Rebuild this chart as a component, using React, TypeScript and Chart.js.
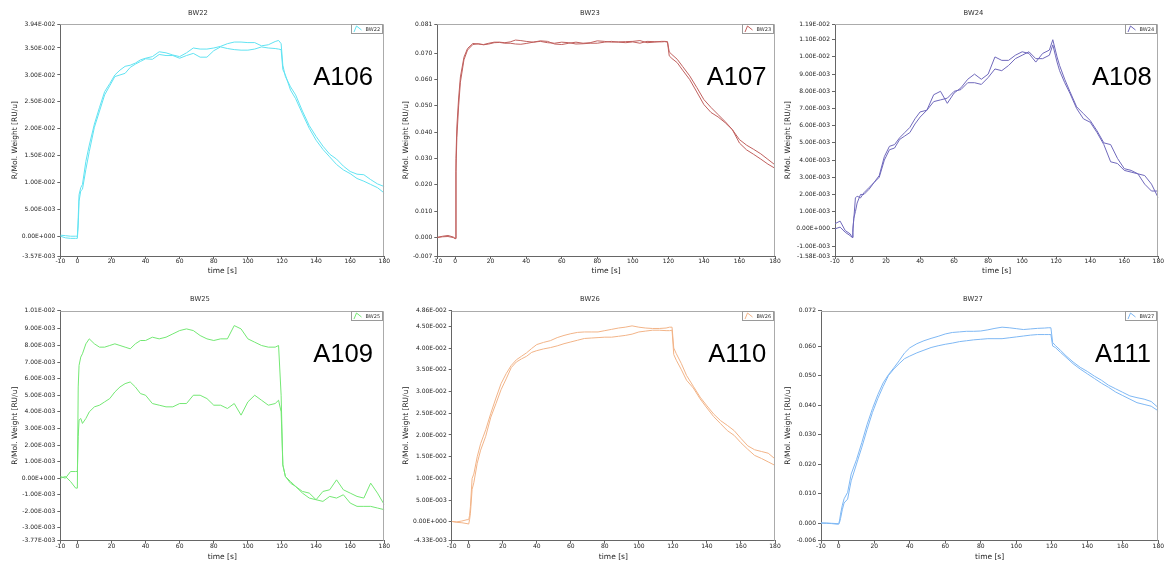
import React, { useEffect, useRef } from 'react';
import { Chart, registerables } from 'chart.js';

Chart.register(...registerables);

// ---------- data ----------
const TIME = [-10, -7, -4, -1, 0, 0.5, 1, 2, 3, 5, 7, 10, 13, 16, 19, 22, 25, 28, 31, 34, 37, 40, 44, 48, 52, 56, 60, 64, 68, 72, 76, 80, 84, 88, 92, 96, 100, 104, 108, 112, 116, 118, 119.5, 120.5, 122, 125, 128, 132, 136, 140, 144, 148, 152, 156, 160, 164, 168, 172, 176, 180];

const X_TICKS = [-10, 0, 20, 40, 60, 80, 100, 120, 140, 160, 180];

const BW22_A = [0.0003, 0.0002, 0.0001, 0.0001, 0.0001, 0.0035, 0.0078, 0.0091, 0.0097, 0.0140,
  0.0170, 0.0209, 0.0240, 0.0269, 0.0284, 0.0300, 0.0309, 0.0316, 0.0318, 0.0322,
  0.0328, 0.0331, 0.0334, 0.0343, 0.0341, 0.0337, 0.0334, 0.0341, 0.0350, 0.0348,
  0.0348, 0.0350, 0.0353, 0.0358, 0.0361, 0.0361, 0.0360, 0.0360, 0.0354, 0.0356,
  0.0362, 0.0364, 0.0358, 0.0318, 0.0297, 0.0278, 0.0263, 0.0233, 0.0206, 0.0186,
  0.0168, 0.0153, 0.0144, 0.0131, 0.0121, 0.0116, 0.0115, 0.0106, 0.0098, 0.0093];
const BW22_B = [0.0001, -0.0002, -0.0003, -0.0003, -0.0003, 0.0020, 0.0066, 0.0085, 0.0088, 0.0125,
  0.0158, 0.0203, 0.0233, 0.0263, 0.0280, 0.0297, 0.0300, 0.0303, 0.0314, 0.0320,
  0.0325, 0.0330, 0.0329, 0.0338, 0.0336, 0.0336, 0.0331, 0.0336, 0.0340, 0.0333,
  0.0333, 0.0345, 0.0352, 0.0349, 0.0347, 0.0346, 0.0346, 0.0348, 0.0352, 0.0350,
  0.0349, 0.0348, 0.0347, 0.0310, 0.0300, 0.0272, 0.0256, 0.0228, 0.0201, 0.0179,
  0.0162, 0.0148, 0.0134, 0.0124, 0.0117, 0.0108, 0.0103, 0.0097, 0.0091, 0.0081];

const BW23_A = [0.0001, 0.0005, 0.0008, 0.0002, -0.0003, 0.0300, 0.0420, 0.0530, 0.0610, 0.0685,
  0.0718, 0.0737, 0.0735, 0.0733, 0.0738, 0.0742, 0.0742, 0.0740, 0.0743, 0.0750,
  0.0748, 0.0745, 0.0742, 0.0747, 0.0745, 0.0735, 0.0733, 0.0738, 0.0742, 0.0738,
  0.0740, 0.0747, 0.0745, 0.0742, 0.0743, 0.0744, 0.0745, 0.0748, 0.0740, 0.0742,
  0.0745, 0.0745, 0.0744, 0.0705, 0.0695, 0.0677, 0.0650, 0.0614, 0.0570, 0.0524,
  0.0494, 0.0467, 0.0440, 0.0410, 0.0372, 0.0351, 0.0335, 0.0318, 0.0297, 0.0276];
const BW23_B = [0.0000, 0.0003, 0.0004, 0.0000, -0.0004, 0.0250, 0.0380, 0.0500, 0.0590, 0.0675,
  0.0712, 0.0733, 0.0736, 0.0732, 0.0735, 0.0740, 0.0741, 0.0738, 0.0738, 0.0735,
  0.0734, 0.0737, 0.0742, 0.0745, 0.0740, 0.0738, 0.0742, 0.0740, 0.0735, 0.0736,
  0.0738, 0.0738, 0.0742, 0.0745, 0.0742, 0.0740, 0.0743, 0.0738, 0.0745, 0.0744,
  0.0743, 0.0744, 0.0742, 0.0690, 0.0680, 0.0664, 0.0636, 0.0600, 0.0553, 0.0505,
  0.0475, 0.0458, 0.0436, 0.0410, 0.0359, 0.0333, 0.0316, 0.0298, 0.0279, 0.0263];

const BW24_A = [0.0003, 0.00045, -0.0001, -0.0003, -0.0005, 0.0000, 0.0005, 0.0018, 0.0019, 0.0018,
  0.0021, 0.0024, 0.0027, 0.0031, 0.0042, 0.0048, 0.0049, 0.0053, 0.0056, 0.0059,
  0.0064, 0.0068, 0.0069, 0.0078, 0.0080, 0.0073, 0.0079, 0.0082, 0.0087, 0.0090,
  0.0087, 0.0090, 0.0100, 0.0098, 0.0098, 0.0101, 0.0103, 0.0102, 0.0097, 0.0102,
  0.0104, 0.0110, 0.0104, 0.0100, 0.0095, 0.0087, 0.0080, 0.0071, 0.0067, 0.0063,
  0.0057, 0.0050, 0.0049, 0.0041, 0.0035, 0.0034, 0.0032, 0.0031, 0.0026, 0.0018];
const BW24_B = [0.0000, 0.0001, -0.0002, -0.0004, -0.0005, -0.0002, 0.0006, 0.0010, 0.0015, 0.0020,
  0.0020, 0.0023, 0.0027, 0.0030, 0.0040, 0.0046, 0.0047, 0.0052, 0.0054, 0.0056,
  0.0061, 0.0065, 0.0069, 0.0074, 0.0075, 0.0076, 0.0080, 0.0081, 0.0085, 0.0085,
  0.0084, 0.0088, 0.0093, 0.0092, 0.0095, 0.0099, 0.0101, 0.0103, 0.0099, 0.0099,
  0.0101, 0.0107, 0.0101, 0.0097, 0.0092, 0.0085, 0.0079, 0.0070, 0.0064, 0.0062,
  0.0056, 0.0049, 0.0039, 0.0038, 0.0034, 0.0033, 0.0032, 0.0026, 0.0022, 0.0022];

const BW25_A = [0.0000, 0.0001, -0.0002, -0.0006, -0.0006, 0.0055, 0.0068, 0.0073, 0.0075, 0.0081,
  0.0084, 0.0081, 0.0079, 0.0079, 0.0080, 0.0081, 0.0080, 0.0079, 0.0078, 0.0081,
  0.0083, 0.0083, 0.0085, 0.0084, 0.0085, 0.0087, 0.0089, 0.0090, 0.0089, 0.0086,
  0.0084, 0.0083, 0.0084, 0.0084, 0.0092, 0.0090, 0.0084, 0.0082, 0.0080, 0.0079,
  0.0079, 0.0080, 0.0050, 0.0008, 0.0001, -0.0002, -0.0005, -0.0009, -0.0012, -0.0013,
  -0.0008, -0.0007, -0.0001, -0.0007, -0.0009, -0.0011, -0.0012, -0.0003, -0.0009, -0.0016];
const BW25_B = [0.0001, 0.0000, 0.0004, 0.0004, 0.0004, 0.0025, 0.0035, 0.0036, 0.0033, 0.0036,
  0.0040, 0.0043, 0.0044, 0.0046, 0.0048, 0.0052, 0.0055, 0.0057, 0.0058, 0.0055,
  0.0051, 0.0050, 0.0045, 0.0044, 0.0043, 0.0043, 0.0045, 0.0045, 0.0050, 0.0050,
  0.0048, 0.0044, 0.0044, 0.0042, 0.0045, 0.0038, 0.0046, 0.0050, 0.0047, 0.0044,
  0.0045, 0.0047, 0.0040, 0.0008, 0.0001, -0.0003, -0.0005, -0.0008, -0.0009, -0.0013,
  -0.0014, -0.0011, -0.0012, -0.0010, -0.0015, -0.0017, -0.0017, -0.0017, -0.0018, -0.0019];

const BW26_A = [0.0001, 0.0000, 0.0002, 0.0005, 0.0005, 0.0015, 0.0035, 0.0100, 0.0110, 0.0150,
  0.0180, 0.0212, 0.0250, 0.0285, 0.0318, 0.0341, 0.0360, 0.0373, 0.0381, 0.0389,
  0.0399, 0.0408, 0.0413, 0.0417, 0.0424, 0.0429, 0.0433, 0.0436, 0.0437, 0.0437,
  0.0437, 0.0440, 0.0443, 0.0446, 0.0448, 0.0451, 0.0448, 0.0446, 0.0445, 0.0445,
  0.0446, 0.0448, 0.0448, 0.0400, 0.0387, 0.0364, 0.0337, 0.0312, 0.0287, 0.0267,
  0.0248, 0.0233, 0.0222, 0.0210, 0.0192, 0.0175, 0.0166, 0.0162, 0.0158, 0.0145];
const BW26_B = [0.0001, -0.0001, -0.0002, -0.0004, -0.0005, 0.0005, 0.0020, 0.0075, 0.0090, 0.0135,
  0.0165, 0.0197, 0.0241, 0.0272, 0.0304, 0.0329, 0.0355, 0.0368, 0.0375, 0.0381,
  0.0390, 0.0394, 0.0398, 0.0401, 0.0405, 0.0410, 0.0414, 0.0418, 0.0422, 0.0423,
  0.0424, 0.0425, 0.0425, 0.0427, 0.0429, 0.0432, 0.0437, 0.0439, 0.0441, 0.0441,
  0.0440, 0.0440, 0.0441, 0.0385, 0.0372, 0.0350, 0.0326, 0.0308, 0.0283, 0.0262,
  0.0242, 0.0226, 0.0210, 0.0199, 0.0182, 0.0167, 0.0153, 0.0146, 0.0138, 0.0130];

const BW27_A = [0.0000, 0.0000, -0.0001, -0.0002, -0.0002, 0.0010, 0.0030, 0.0060, 0.0082, 0.0104,
  0.0166, 0.0215, 0.0273, 0.0335, 0.0388, 0.0435, 0.0475, 0.0503, 0.0526, 0.0550,
  0.0576, 0.0594, 0.0608, 0.0618, 0.0626, 0.0633, 0.0641, 0.0646, 0.0648, 0.0650,
  0.0650, 0.0651, 0.0655, 0.0660, 0.0664, 0.0662, 0.0659, 0.0656, 0.0658, 0.0660,
  0.0661, 0.0662, 0.0662, 0.0612, 0.0602, 0.0585, 0.0567, 0.0546, 0.0528, 0.0514,
  0.0498, 0.0484, 0.0467, 0.0455, 0.0443, 0.0431, 0.0425, 0.0420, 0.0412, 0.0391];
const BW27_B = [0.0000, -0.0001, -0.0002, -0.0004, -0.0004, 0.0003, 0.0015, 0.0045, 0.0068, 0.0081,
  0.0143, 0.0200, 0.0257, 0.0318, 0.0375, 0.0422, 0.0463, 0.0500, 0.0522, 0.0540,
  0.0557, 0.0566, 0.0577, 0.0586, 0.0595, 0.0601, 0.0606, 0.0610, 0.0615, 0.0618,
  0.0621, 0.0623, 0.0625, 0.0625, 0.0625, 0.0628, 0.0631, 0.0634, 0.0637, 0.0639,
  0.0639, 0.0639, 0.0639, 0.0600, 0.0595, 0.0578, 0.0562, 0.0540, 0.0522, 0.0506,
  0.0490, 0.0474, 0.0460, 0.0444, 0.0432, 0.0420, 0.0408, 0.0402, 0.0396, 0.0380];

const BW22_Y_TICKS = [-0.00357, 0, 0.005, 0.01, 0.015, 0.02, 0.025, 0.03, 0.035, 0.0394];
const BW23_Y_TICKS = [-0.007, 0, 0.01, 0.02, 0.03, 0.04, 0.05, 0.06, 0.07, 0.081];
const BW24_Y_TICKS = [-0.00158, -0.001, 0, 0.001, 0.002, 0.003, 0.004, 0.005, 0.006, 0.007, 0.008, 0.009, 0.01, 0.011, 0.0119];
const BW25_Y_TICKS = [-0.00377, -0.003, -0.002, -0.001, 0, 0.001, 0.002, 0.003, 0.004, 0.005, 0.006, 0.007, 0.008, 0.009, 0.0101];
const BW26_Y_TICKS = [-0.00433, 0, 0.005, 0.01, 0.015, 0.02, 0.025, 0.03, 0.035, 0.04, 0.045, 0.0486];
const BW27_Y_TICKS = [-0.006, 0, 0.01, 0.02, 0.03, 0.04, 0.05, 0.06, 0.072];

const TITLES = ['BW22', 'BW23', 'BW24', 'BW25', 'BW26', 'BW27'];
const TAGS = ['A106', 'A107', 'A108', 'A109', 'A110', 'A111'];
const SERIES_A = [BW22_A, BW23_A, BW24_A, BW25_A, BW26_A, BW27_A];
const SERIES_B = [BW22_B, BW23_B, BW24_B, BW25_B, BW26_B, BW27_B];
const Y_TICKS = [BW22_Y_TICKS, BW23_Y_TICKS, BW24_Y_TICKS, BW25_Y_TICKS, BW26_Y_TICKS, BW27_Y_TICKS];
const X_TITLE = 'time [s]';
const Y_TITLE = 'R/Mol. Weight [RU/u]';

// ---------- styles / layout ----------
const COLORS = ['#62E3F2', '#C0605E', '#7069BC', '#74E874', '#F2B488', '#7FB8F4'];
const FORMATS = ['E', 'F', 'E', 'E', 'E', 'F'];
const FONT = '"DejaVu Sans", sans-serif';

const ROW1 = { top: 0, height: 284, tPadTop: 9.2, tPadBottom: 6.9, xHeight: 19.5, bottomPad: 8.5, tagY: 85 };
const ROW2 = { top: 284, height: 285, tPadTop: 10.9, tPadBottom: 7.6, xHeight: 21.1, bottomPad: 7.2, tagY: 362 };
const LAYOUTS = [
  { ...ROW1, left: 0, width: 396, yWidth: 60.3, rightGap: 11.7, yTitlePad: 10.5, tagX: 313.3 },
  { ...ROW1, left: 398, width: 384, yWidth: 39.3, rightGap: 7, yTitlePad: 3.2, tagX: 706.7 },
  { ...ROW1, left: 782, width: 383, yWidth: 53, rightGap: 6.7, yTitlePad: 1.8, tagX: 1092 },
  { ...ROW2, left: 0, width: 400, yWidth: 60.3, rightGap: 15.7, yTitlePad: 10.5, tagX: 313.3 },
  { ...ROW2, left: 398, width: 384, yWidth: 53.7, rightGap: 7, yTitlePad: 3.2, tagX: 708.3 },
  { ...ROW2, left: 782, width: 382, yWidth: 39, rightGap: 5.7, yTitlePad: 1.8, tagX: 1095 },
];

function fmtE(v: number): string {
  if (Math.abs(v) < 1e-12) return '0.00E+000';
  let e = Math.floor(Math.log10(Math.abs(v)) + 1e-9);
  let ms = (v / Math.pow(10, e)).toFixed(2);
  if (Math.abs(parseFloat(ms)) >= 10) {
    e += 1;
    ms = (v / Math.pow(10, e)).toFixed(2);
  }
  return ms + 'E' + (e < 0 ? '-' : '+') + String(Math.abs(e)).padStart(3, '0');
}
function fmtF(v: number): string {
  const s = v.toFixed(3);
  return s === '-0.000' ? '0.000' : s;
}

function makeDecor(idx: number) {
  const lay = LAYOUTS[idx];
  return {
    id: 'decor' + idx,
    afterDraw(chart: any) {
      const { ctx, chartArea: ca } = chart;
      ctx.save();
      // plot frame (top and right)
      ctx.strokeStyle = '#ababab';
      ctx.lineWidth = 1;
      ctx.beginPath();
      ctx.moveTo(ca.left, Math.round(ca.top) + 0.5);
      ctx.lineTo(Math.round(ca.right) - 0.5, Math.round(ca.top) + 0.5);
      ctx.lineTo(Math.round(ca.right) - 0.5, ca.bottom);
      ctx.stroke();
      // legend box
      const w = 31, h = 9;
      const x0 = Math.round(ca.right - 2.5 - w) + 0.5;
      const y0 = Math.round(ca.top) + 0.5;
      ctx.fillStyle = '#ffffff';
      ctx.fillRect(x0, y0, w, h);
      ctx.strokeStyle = '#9a9a9a';
      ctx.strokeRect(x0, y0, w, h);
      ctx.strokeStyle = COLORS[idx];
      ctx.beginPath();
      ctx.moveTo(x0 + 2.5, y0 + 7.5);
      ctx.lineTo(x0 + 5, y0 + 1.5);
      ctx.lineTo(x0 + 10, y0 + 5.5);
      ctx.stroke();
      ctx.fillStyle = '#333';
      ctx.font = '5px ' + FONT;
      ctx.textAlign = 'left';
      ctx.textBaseline = 'middle';
      ctx.fillText(TITLES[idx], x0 + 14, y0 + h / 2 + 0.5);
      // big sample tag
      ctx.fillStyle = '#000';
      ctx.font = '25.6px "Liberation Sans", Arial, sans-serif';
      ctx.textBaseline = 'alphabetic';
      ctx.fillText(TAGS[idx], lay.tagX - lay.left, lay.tagY - lay.top);
      ctx.restore();
    },
  };
}

function Panel({ idx }: { idx: number }) {
  const ref = useRef<HTMLCanvasElement | null>(null);
  const lay = LAYOUTS[idx];
  useEffect(() => {
    if (!ref.current) return;
    const yt = Y_TICKS[idx];
    const fmt = FORMATS[idx] === 'E' ? fmtE : fmtF;
    const mk = (arr: number[]) => TIME.map((t, i) => ({ x: t, y: arr[i] }));
    const tickFont = { family: FONT, size: 6 };
    const titleFont = { family: FONT, size: 7.5 };
    const chart = new Chart(ref.current, {
      type: 'line',
      data: {
        datasets: [
          { data: mk(SERIES_A[idx]), borderColor: COLORS[idx], borderWidth: 1, pointRadius: 0, fill: false, tension: 0 },
          { data: mk(SERIES_B[idx]), borderColor: COLORS[idx], borderWidth: 1, pointRadius: 0, fill: false, tension: 0 },
        ],
      },
      options: {
        animation: false,
        responsive: false,
        events: [],
        layout: { padding: { left: 0, right: 0, top: 0, bottom: lay.bottomPad } },
        plugins: {
          legend: { display: false },
          tooltip: { enabled: false },
          title: {
            display: true,
            text: TITLES[idx],
            color: '#333',
            font: { family: FONT, size: 6.8, weight: 'normal' },
            padding: { top: lay.tPadTop, bottom: lay.tPadBottom },
          },
        },
        scales: {
          x: {
            type: 'linear',
            min: -10,
            max: 180,
            afterBuildTicks: (s: any) => { s.ticks = X_TICKS.map((v) => ({ value: v })); },
            afterFit: (s: any) => { s.height = lay.xHeight; },
            ticks: { autoSkip: false, maxRotation: 0, padding: -1, color: '#222', font: tickFont, callback: (v: any) => String(v) },
            grid: { drawOnChartArea: false, tickLength: 3, color: '#666' },
            border: { color: '#666' },
            title: { display: true, text: X_TITLE, color: '#222', font: titleFont, padding: { top: 0, bottom: 0 } },
          },
          y: {
            type: 'linear',
            min: yt[0],
            max: yt[yt.length - 1],
            afterBuildTicks: (s: any) => { s.ticks = yt.map((v) => ({ value: v })); },
            afterFit: (s: any) => { s.width = lay.yWidth; },
            ticks: { autoSkip: false, padding: 2, color: '#222', font: tickFont, callback: (v: any) => fmt(Number(v)) },
            grid: { drawOnChartArea: false, tickLength: 3, color: '#666' },
            border: { color: '#666' },
            title: { display: true, text: Y_TITLE, color: '#222', font: titleFont, padding: { top: lay.yTitlePad, bottom: 0 } },
          },
          yR: {
            type: 'linear',
            position: 'right',
            display: true,
            min: 0,
            max: 1,
            ticks: { display: false },
            grid: { display: false, drawTicks: false },
            border: { display: false },
            afterFit: (s: any) => { s.width = lay.rightGap; },
          },
        },
      } as any,
      plugins: [makeDecor(idx)],
    });
    return () => chart.destroy();
  }, [idx]);
  return (
    <canvas
      ref={ref}
      width={lay.width}
      height={lay.height}
      style={{ position: 'absolute', left: lay.left, top: lay.top, width: lay.width, height: lay.height }}
    />
  );
}

export default function App() {
  return (
    <div style={{ position: 'absolute', left: 0, top: 0, width: 1169, height: 569, background: '#ffffff', overflow: 'hidden' }}>
      {TITLES.map((_, i) => (
        <Panel key={i} idx={i} />
      ))}
    </div>
  );
}
